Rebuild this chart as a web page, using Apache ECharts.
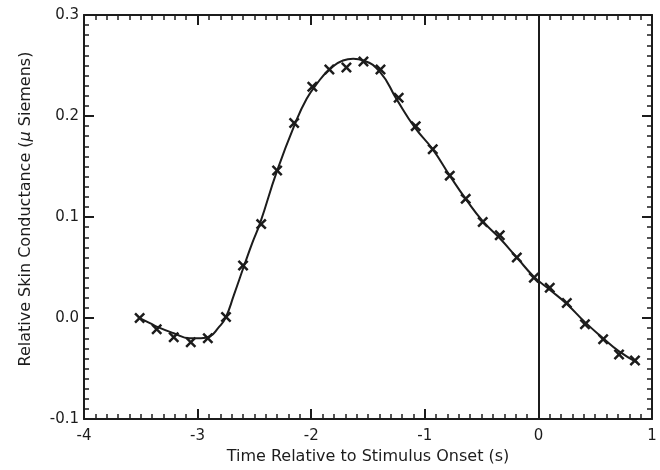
<!DOCTYPE html>
<html>
<head>
<meta charset="utf-8">
<script src="https://cdn.jsdelivr.net/npm/echarts@6/dist/echarts.min.js"></script>
<style>
html,body{margin:0;padding:0;background:#fff;}
#chart{width:660px;height:470px;}
</style>
</head>
<body>
<div id="chart"></div>
<script>
// Measured samples (crosses)
var pointX = [-3.51,-3.36,-3.21,-3.06,-2.91,-2.75,-2.60,-2.44,-2.30,-2.15,-1.99,-1.84,-1.69,-1.54,-1.39,-1.23,-1.08,-0.93,-0.78,-0.64,-0.49,-0.34,-0.19,-0.04,0.10,0.25,0.41,0.57,0.71,0.85];
var pointY = [0.000,-0.011,-0.019,-0.024,-0.020,0.001,0.052,0.093,0.146,0.193,0.229,0.246,0.248,0.254,0.246,0.218,0.190,0.167,0.141,0.118,0.095,0.082,0.060,0.040,0.030,0.015,-0.006,-0.021,-0.036,-0.042];
// Smooth fitted curve
var curveX = [-3.51,-3.42,-3.35,-3.21,-3.07,-2.97,-2.89,-2.82,-2.755,-2.68,-2.59,-2.52,-2.45,-2.30,-2.14,-2.04,-1.95,-1.84,-1.72,-1.63,-1.54,-1.39,-1.25,-1.09,-0.93,-0.78,-0.64,-0.49,-0.34,-0.19,-0.04,0.10,0.25,0.41,0.57,0.71,0.87];
var curveY = [0.000,-0.005,-0.009,-0.015,-0.020,-0.020,-0.018,-0.010,0.000,0.023,0.052,0.074,0.094,0.146,0.193,0.217,0.232,0.246,0.255,0.2566,0.255,0.243,0.217,0.189,0.167,0.141,0.118,0.096,0.079,0.060,0.041,0.028,0.014,-0.004,-0.020,-0.033,-0.044];
var onsetX = 0;
var xTicks = {min: -4, max: 1, interval: 1};
var yTicks = {min: -0.1, max: 0.3, interval: 0.1};
var xTitle = 'Time Relative to Stimulus Onset (s)';

var FONT = 'DejaVu Sans';
var INK = '#1c1c1c';

function zip(a, b) { return a.map(function (v, i) { return [v, b[i]]; }); }

var crossPath = 'path://M0,1.6L1.6,0L5,3.4L8.4,0L10,1.6L6.6,5L10,8.4L8.4,10L5,6.6L1.6,10L0,8.4L3.4,5Z';

var baseAxis = {
  axisLine: {show: true, onZero: false, lineStyle: {color: INK, width: 2}},
  axisTick: {show: true, inside: true, length: 10, lineStyle: {color: INK, width: 2}},
  minorTick: {show: true, splitNumber: 10, length: 5, lineStyle: {color: INK, width: 1.5}},
  splitLine: {show: false},
  minorSplitLine: {show: false}
};
function ax(extra) { return Object.assign({}, JSON.parse(JSON.stringify(baseAxis)), extra); }

var chart = echarts.init(document.getElementById('chart'), null, {renderer: 'canvas'});
chart.setOption({
  animation: false,
  backgroundColor: '#fff',
  grid: {left: 84, right: 8, top: 15, bottom: 45},
  xAxis: [
    ax({type: 'value', position: 'bottom', min: xTicks.min, max: xTicks.max, interval: xTicks.interval,
      axisLabel: {color: INK, fontFamily: FONT, fontSize: 15, margin: 10},
      name: xTitle, nameLocation: 'middle', nameGap: 21,
      nameTextStyle: {color: INK, fontFamily: FONT, fontSize: 16}}),
    ax({type: 'value', position: 'top', min: xTicks.min, max: xTicks.max, interval: xTicks.interval,
      axisLabel: {show: false}})
  ],
  yAxis: [
    ax({type: 'value', position: 'left', min: yTicks.min, max: yTicks.max, interval: yTicks.interval,
      axisLabel: {color: INK, fontFamily: FONT, fontSize: 15, margin: 5,
        formatter: function (v) { return v.toFixed(1); }},
      name: '{a|Relative Skin Conductance (}{i|μ}{a| Siemens)}', nameLocation: 'middle', nameGap: 50,
      nameTextStyle: {color: INK, fontFamily: FONT, fontSize: 16, padding: [0, 0, 0, 16],
        rich: {a: {color: INK, fontFamily: FONT, fontSize: 16},
               i: {color: INK, fontFamily: FONT, fontSize: 16, fontStyle: 'italic'}}}}),
    ax({type: 'value', position: 'right', min: yTicks.min, max: yTicks.max, interval: yTicks.interval,
      axisLabel: {show: false}})
  ],
  series: [
    {
      type: 'line', name: 'fit', xAxisIndex: 0, yAxisIndex: 0,
      data: zip(curveX, curveY), smooth: 0.5, showSymbol: false, silent: true,
      lineStyle: {color: INK, width: 2},
      markLine: {silent: true, symbol: 'none', label: {show: false},
        lineStyle: {color: INK, width: 2, type: 'solid'},
        data: [{xAxis: onsetX}]}
    },
    {
      type: 'scatter', name: 'samples', xAxisIndex: 0, yAxisIndex: 0,
      data: zip(pointX, pointY), symbol: crossPath, symbolSize: 11,
      itemStyle: {color: INK, opacity: 1}
    }
  ]
});
</script>
</body>
</html>
